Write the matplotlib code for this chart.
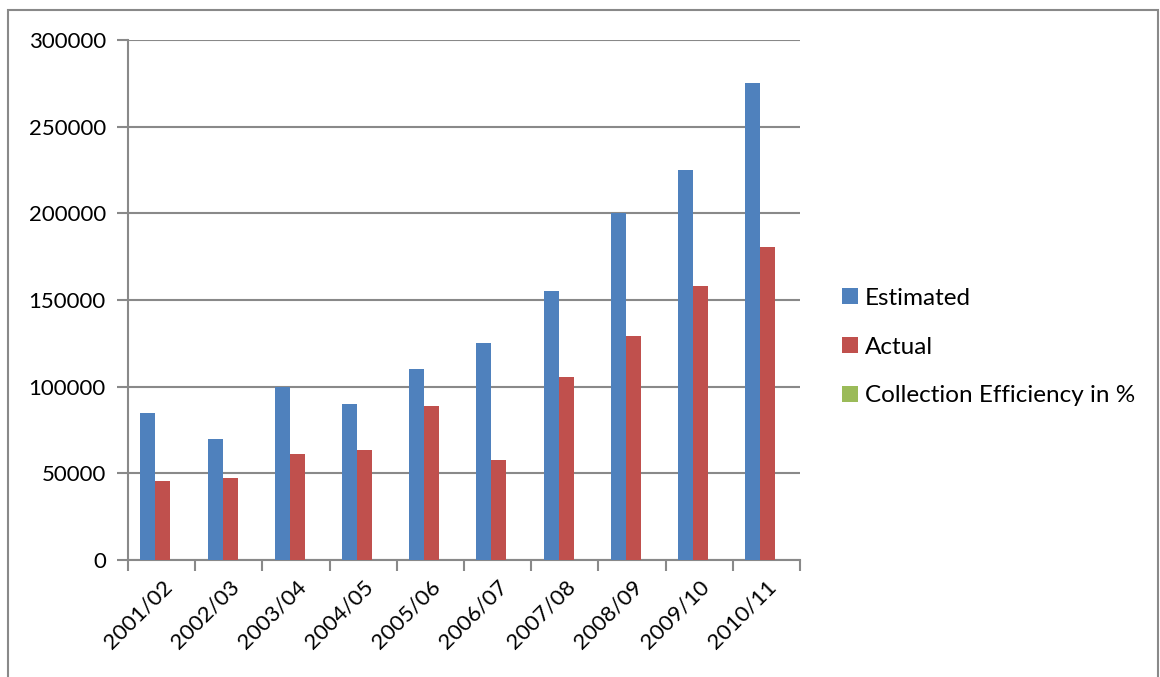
import numpy as np
from matplotlib import pyplot as plt
from matplotlib.patches import Rectangle

plt.rcParams['font.family'] = ['Lato', 'DejaVu Sans']
plt.rcParams['font.size'] = 16

years = ['2001/02', '2002/03', '2003/04', '2004/05', '2005/06',
         '2006/07', '2007/08', '2008/09', '2009/10', '2010/11']
estimated = [85000, 70000, 100000, 90000, 110000,
             125000, 155000, 200000, 225000, 275000]
actual = [45500, 47500, 61000, 63300, 88800,
          57700, 105400, 129000, 158000, 180800]
efficiency = [0] * 10  # too small to show on this scale

blue = '#4f81bd'
red = '#c0504d'
green = '#9bbb59'
grey = '#898989'

fig = plt.figure(figsize=(11.6, 6.77), dpi=100)
ax = fig.add_axes([128 / 1160, 1 - 560 / 677, 672 / 1160, 520 / 677])

x = np.arange(len(years))
w = 0.223
ax.bar(x - w + 0.02, estimated, w, color=blue, label='Estimated', zorder=3)
ax.bar(x + 0.02, actual, w, color=red, label='Actual', zorder=3)
ax.bar(x + w + 0.02, efficiency, w, color=green, label='Collection Efficiency in %', zorder=3)

ax.set_xlim(-0.5, len(years) - 0.5)
ax.set_ylim(0, 300000)
ax.set_yticks(np.arange(0, 300001, 50000))
ax.yaxis.grid(True, color=grey, linewidth=1.5, zorder=0)

ax.set_xticks(x)
ax.set_xticklabels(years, rotation=45, ha='right', rotation_mode='anchor')
ax.set_xticks(np.arange(-0.5, len(years), 1), minor=True)
ax.tick_params(axis='x', which='major', length=0, pad=12)
ax.tick_params(axis='x', which='minor', length=8, width=1.5, color=grey)
ax.tick_params(axis='y', length=8, width=1.5, color=grey, pad=8)

for s in ['top', 'right']:
    ax.spines[s].set_visible(False)
for s in ['left', 'bottom']:
    ax.spines[s].set_color(grey)
    ax.spines[s].set_linewidth(1.5)

leg = fig.legend(loc='center left', bbox_to_anchor=(820 / 1160, 1 - 347 / 677),
                 frameon=False, handlelength=0.65, handleheight=0.65,
                 handletextpad=0.3, labelspacing=1.15, fontsize=17.5)

fig.patches.append(Rectangle((8 / 1160, -0.05), 1150 / 1160, 1.05 - 10 / 677,
                             transform=fig.transFigure, fill=False,
                             edgecolor=grey, linewidth=1.5))

plt.savefig('out.png', dpi=100)
